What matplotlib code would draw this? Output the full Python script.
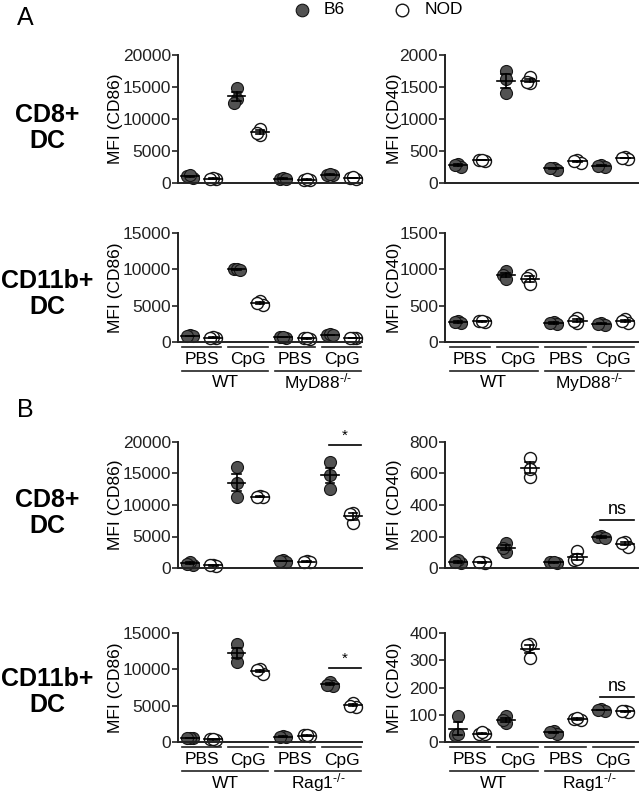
import numpy as np
import matplotlib
matplotlib.use("Agg")
import matplotlib.pyplot as plt
from matplotlib.lines import Line2D
from matplotlib.transforms import blended_transform_factory, ScaledTranslation

plt.rcParams['font.family'] = ['Liberation Sans', 'DejaVu Sans']
plt.rcParams['mathtext.fontset'] = 'custom'
plt.rcParams['mathtext.rm'] = 'Liberation Sans'
plt.rcParams['mathtext.it'] = 'Liberation Sans'

# ---------------- data ----------------
# groups order: WT PBS B6, WT PBS NOD, WT CpG B6, WT CpG NOD, KO PBS B6, KO PBS NOD, KO CpG B6, KO CpG NOD
strains = ["B6", "NOD", "B6", "NOD", "B6", "NOD", "B6", "NOD"]
treatments = ["PBS", "CpG", "PBS", "CpG"]

A_cd8_cd86 = [[800, 1100, 1200], [600, 800, 700], [14900, 13200, 12500], [8500, 7500, 7800],
              [700, 800, 600], [500, 400, 600], [1300, 1200, 1400], [800, 700, 900]]
A_cd8_cd40 = [[300, 250, 280], [360, 350, 360], [1750, 1630, 1400], [1650, 1570, 1580],
              [240, 210, 230], [360, 310, 340], [280, 250, 270], [400, 380, 390]]
A_cd11_cd86 = [[900, 800, 850], [600, 650, 600], [10000, 10100, 9900], [5700, 5100, 5300],
               [650, 600, 700], [500, 450, 500], [1000, 1050, 950], [500, 550, 500]]
A_cd11_cd40 = [[290, 260, 280], [290, 270, 290], [980, 920, 870], [920, 880, 800],
               [280, 250, 260], [330, 260, 290], [260, 240, 250], [310, 260, 290]]
B_cd8_cd86 = [[500, 1000, 700], [500, 300, 400], [16000, 13500, 11200], [11500, 11200, 11300],
              [1200, 1000, 1100], [1100, 900, 1000], [16800, 14800, 12500], [8800, 7200, 8600]]
B_cd8_cd40 = [[30, 50, 35], [40, 30, 35], [160, 100, 130], [700, 580, 630],
              [35, 30, 40], [110, 50, 55], [205, 195, 190], [165, 135, 160]]
B_cd11_cd86 = [[500, 600, 550], [400, 300, 450], [13500, 11000, 12200], [10000, 9400, 9900],
               [800, 700, 750], [900, 850, 900], [8300, 7700, 7900], [5400, 4800, 5000]]
B_cd11_cd40 = [[95, 25, 28], [30, 28, 35], [95, 70, 80], [360, 355, 310],
               [40, 30, 35], [85, 80, 88], [120, 115, 118], [115, 110, 112]]

yticks_cd86_20 = [0, 5000, 10000, 15000, 20000]
yticks_cd86_15 = [0, 5000, 10000, 15000]
yticks_cd40_2000 = [0, 500, 1000, 1500, 2000]
yticks_cd40_1500 = [0, 500, 1000, 1500]
yticks_cd40_800 = [0, 200, 400, 600, 800]
yticks_cd40_400 = [0, 100, 200, 300, 400]

# significance: (group_a, group_b, y, label)
sig_B_cd8_cd86 = (6, 7, 19600, "*")
sig_B_cd8_cd40 = (6, 7, 305, "ns")
sig_B_cd11_cd86 = (6, 7, 10200, "*")
sig_B_cd11_cd40 = (6, 7, 165, "ns")

# ---------------- figure ----------------
W, H = 643, 793
fig = plt.figure(figsize=(W / 100, H / 100), dpi=100)

B6_COLOR = "#525252"
MS = 12.0  # marker diameter px


def add_ax(x0, x1, ytop, ybot):
    return fig.add_axes([x0 / W, 1 - ybot / H, (x1 - x0) / W, (ybot - ytop) / H])


def panel(ax, data, yticks, ylabel, xlim, lab_x, sig=None, groups=None):
    ax.set_xlim(*xlim)
    ax.set_ylim(0, yticks[-1])
    for s in ["top", "right"]:
        ax.spines[s].set_visible(False)
    for s in ["left", "bottom"]:
        ax.spines[s].set_linewidth(1.4)
        ax.spines[s].set_color("#222222")
    ax.set_yticks(yticks)
    ax.set_yticklabels([str(t) for t in yticks])
    ax.tick_params(axis='y', length=4, width=1.2, labelsize=12.5, pad=1.0, colors="#222222")
    ax.tick_params(axis='x', bottom=False, labelbottom=False)
    ax.set_ylabel(ylabel, fontsize=12.5)
    ax.yaxis.set_label_coords(lab_x, 0.5)

    bbox = ax.get_window_extent()
    px_per_y = bbox.height / (yticks[-1])
    px_per_x = bbox.width / (xlim[1] - xlim[0])
    for gi, vals in enumerate(data):
        placed = []
        order = np.argsort(vals)[::-1]
        offs = np.zeros(len(vals))
        for k in order:
            v = vals[k]
            for cand in [0.0, -0.13, 0.13, -0.26, 0.26]:
                ok = True
                for (po, pv) in placed:
                    dy = abs(v - pv) * px_per_y
                    dx = abs(cand - po) * px_per_x
                    if dy < MS * 0.4 and dx < MS * 0.25:
                        ok = False
                        break
                if ok:
                    offs[k] = cand
                    placed.append((cand, v))
                    break
        xs = gi + offs
        if strains[gi] == "B6":
            ax.scatter(xs, vals, s=(MS * 0.72) ** 2, facecolor=B6_COLOR, edgecolor="#151515",
                       linewidth=0.8, zorder=2, clip_on=False)
        else:
            ax.scatter(xs, vals, s=(MS * 0.72) ** 2, facecolor="white", edgecolor="#151515",
                       linewidth=1.0, zorder=2, clip_on=False)
        m = np.mean(vals)
        se = np.std(vals, ddof=1) / np.sqrt(len(vals))
        ax.plot([gi - 0.38, gi + 0.38], [m, m], color="black", lw=1.2, zorder=3, clip_on=False)
        ax.plot([gi, gi], [m - se, m + se], color="black", lw=1.2, zorder=3, clip_on=False)
        for yy in (m - se, m + se):
            ax.plot([gi - 0.18, gi + 0.18], [yy, yy], color="black", lw=1.2, zorder=3, clip_on=False)

    if sig is not None:
        a, b, y, lab = sig
        ax.plot([a - 0.05, b + 0.35], [y, y], color="black", lw=1.2, clip_on=False)
        ax.annotate(lab, xy=((a + b) / 2 + 0.15, y), xytext=(0, 1.5), textcoords="offset points",
                    ha="center", va="bottom", fontsize=13 if lab == "ns" else 11)

    if groups is not None:
        trans = blended_transform_factory(ax.transData, ax.transAxes)
        def off(dy_px):
            return trans + ScaledTranslation(0, -dy_px / 100, fig.dpi_scale_trans)
        for pi, tname in enumerate(treatments):
            g0 = 2 * pi
            ax.plot([g0 - 0.35, g0 + 1.35], [0, 0], color="#222222", lw=1.2,
                    transform=off(5), clip_on=False)
            ax.text(g0 + 0.5, 0, tname, ha="center", va="center", fontsize=12.5,
                    transform=off(18))
        for hi, gname in enumerate(groups):
            g0 = 4 * hi
            ax.plot([g0 - 0.35, g0 + 3.35], [0, 0], color="#222222", lw=1.2,
                    transform=off(29), clip_on=False)
            ax.text(g0 + 1.5, 0, gname, ha="center", va="center", fontsize=12.5,
                    transform=off(41))


XL_L = (-0.515, 7.38)
XL_R = (-0.54, 7.53)
LX_L = -0.30
LX_R = -0.225
wt_myd = ["WT", "MyD88$^{\\mathregular{\u2010/\u2010}}$"]
wt_rag = ["WT", "Rag1$^{\\mathregular{\u2010/\u2010}}$"]

ax = add_ax(178, 362, 55, 183)
panel(ax, A_cd8_cd86, yticks_cd86_20, "MFI (CD86)", XL_L, LX_L)
ax = add_ax(445, 638, 55, 183)
panel(ax, A_cd8_cd40, yticks_cd40_2000, "MFI (CD40)", XL_R, LX_R)
ax = add_ax(178, 362, 233, 342)
panel(ax, A_cd11_cd86, yticks_cd86_15, "MFI (CD86)", XL_L, LX_L, groups=wt_myd)
ax = add_ax(445, 638, 233, 342)
panel(ax, A_cd11_cd40, yticks_cd40_1500, "MFI (CD40)", XL_R, LX_R, groups=wt_myd)

ax = add_ax(178, 362, 442, 568)
panel(ax, B_cd8_cd86, yticks_cd86_20, "MFI (CD86)", XL_L, LX_L, sig=sig_B_cd8_cd86)
ax = add_ax(445, 638, 442, 568)
panel(ax, B_cd8_cd40, yticks_cd40_800, "MFI (CD40)", XL_R, LX_R, sig=sig_B_cd8_cd40)
ax = add_ax(178, 362, 633, 742)
panel(ax, B_cd11_cd86, yticks_cd86_15, "MFI (CD86)", XL_L, LX_L, sig=sig_B_cd11_cd86, groups=wt_rag)
ax = add_ax(445, 638, 633, 742)
panel(ax, B_cd11_cd40, yticks_cd40_400, "MFI (CD40)", XL_R, LX_R, sig=sig_B_cd11_cd40, groups=wt_rag)

# panel letters
fig.text(25 / W, 1 - 18 / H, "A", fontsize=18, ha="center", va="center")
fig.text(25 / W, 1 - 410 / H, "B", fontsize=18, ha="center", va="center")

# row labels
for yc, lab in [(128, "CD8+\nDC"), (294, "CD11b+\nDC"), (513, "CD8+\nDC"), (692, "CD11b+\nDC")]:
    fig.text(47 / W, 1 - yc / H, lab, fontsize=18, fontweight="bold", ha="center", va="center",
             linespacing=1.1, family=['Liberation Sans Narrow', 'Liberation Sans', 'DejaVu Sans'])

# legend
fig.add_artist(Line2D([302 / W], [1 - 10 / H], marker="o", markersize=MS * 0.72 * 1.05,
                      markerfacecolor=B6_COLOR, markeredgecolor="#151515", markeredgewidth=0.8,
                      linestyle="none", transform=fig.transFigure))
fig.text(324 / W, 1 - 10 / H, "B6", fontsize=12.5, ha="left", va="center")
fig.add_artist(Line2D([402 / W], [1 - 10 / H], marker="o", markersize=MS * 0.72 * 1.05,
                      markerfacecolor="white", markeredgecolor="#151515", markeredgewidth=1.0,
                      linestyle="none", transform=fig.transFigure))
fig.text(425 / W, 1 - 10 / H, "NOD", fontsize=12.5, ha="left", va="center")

fig.savefig("out.png", dpi=100)
